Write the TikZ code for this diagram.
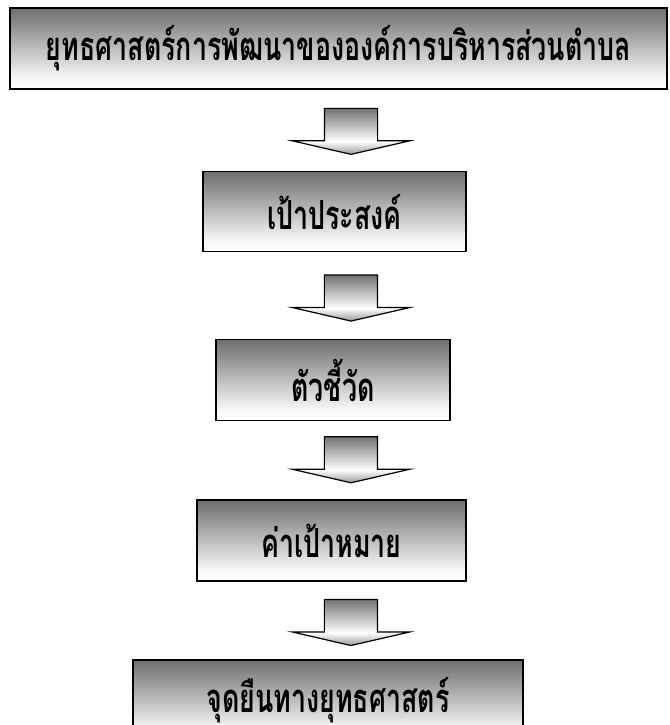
\documentclass[tikz,border=0pt]{standalone}
\usepackage{fontspec}
\newfontfamily\thaifont[Script=Thai, FakeStretch=0.67]{Loma}
\usetikzlibrary{positioning, shapes.arrows}

\pgfdeclareverticalshading{boxshade}{100bp}{color(0bp)=(white); color(25bp)=(white); color(32bp)=(black!3); color(75bp)=(black!57); color(100bp)=(black!57)}
\pgfdeclareverticalshading{arrowshade}{100bp}{color(0bp)=(black!40); color(25bp)=(black!40); color(39bp)=(white); color(75bp)=(black!55); color(100bp)=(black!55)}

\tikzset{
    stage/.style={draw=black, line width=1.5pt, shading=boxshade, minimum height=81pt, inner sep=0pt,
        font=\thaifont\bfseries\fontsize{40}{44}\selectfont},
    downarrow/.style={single arrow, shape border rotate=270, draw=black, line width=1.2pt, shading=arrowshade,
        text width=52pt, text height=0pt, text depth=0pt, inner sep=0pt,
        minimum height=46pt, minimum width=116pt, single arrow head extend=32pt, single arrow tip angle=154}
}

\begin{document}
\begin{tikzpicture}[x=1pt, y=1pt]
            \useasboundingbox (0,0) rectangle (669,-725);
            \node[stage, minimum width=657pt] (strategy) at (338.5,-48.5) {ยุทธศาสตร์การพัฒนาขององค์การบริหารส่วนตำบล};
            \node[downarrow, below=18pt of strategy, xshift=12.5pt] (a1) {};
            \node[stage, minimum width=263pt, minimum height=80pt, below=16pt of a1, xshift=-16.5pt] (goal) {เป้าประสงค์};
            \node[downarrow, below=22pt of goal, xshift=16.5pt] (a2) {};
            \node[stage, minimum width=234pt, below=17pt of a2, xshift=-18pt] (kpi) {ตัวชี้วัด};
            \node[downarrow, below=15pt of kpi, xshift=18pt] (a3) {};
            \node[stage, minimum width=269pt, below=16pt of a3, xshift=-19.5pt] (target) {ค่าเป้าหมาย};
            \node[downarrow, below=17pt of target, xshift=19.5pt] (a4) {};
            \node[stage, minimum width=390pt, below=13pt of a4, xshift=-23pt] (stance) {จุดยืนทางยุทธศาสตร์};
\end{tikzpicture}
\end{document}
